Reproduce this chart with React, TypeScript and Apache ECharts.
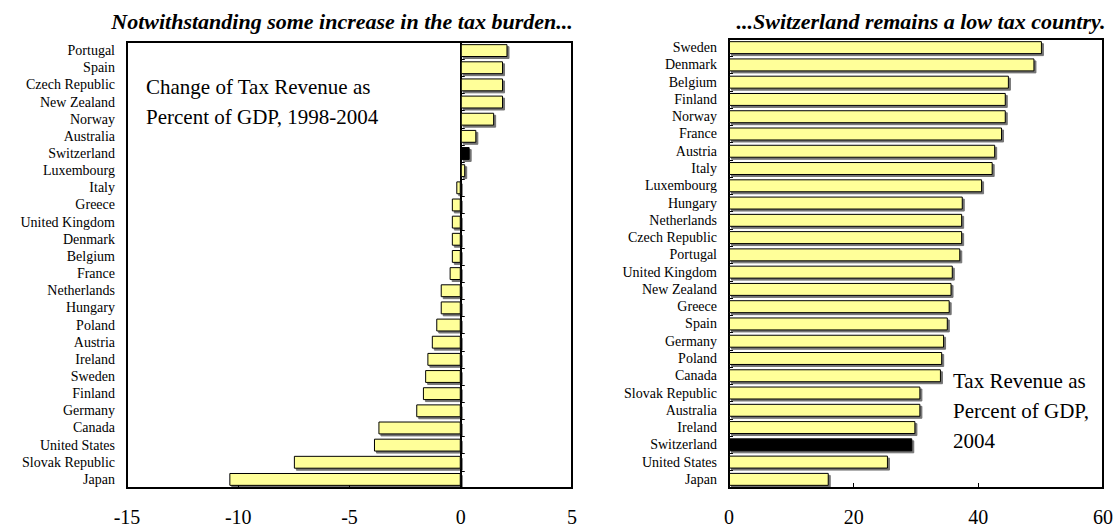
import React, { useEffect, useRef } from "react";
import * as echarts from "echarts";

const leftCategories = ["Portugal", "Spain", "Czech Republic", "New Zealand", "Norway", "Australia", "Switzerland", "Luxembourg", "Italy", "Greece", "United Kingdom", "Denmark", "Belgium", "France", "Netherlands", "Hungary", "Poland", "Austria", "Ireland", "Sweden", "Finland", "Germany", "Canada", "United States", "Slovak Republic", "Japan"];
const leftValues = [2.1, 1.9, 1.9, 1.9, 1.5, 0.7, 0.4, 0.2, -0.2, -0.4, -0.4, -0.4, -0.4, -0.5, -0.9, -0.9, -1.1, -1.3, -1.5, -1.6, -1.7, -2.0, -3.7, -3.9, -7.5, -10.4];

const rightCategories = ["Sweden", "Denmark", "Belgium", "Finland", "Norway", "France", "Austria", "Italy", "Luxembourg", "Hungary", "Netherlands", "Czech Republic", "Portugal", "United Kingdom", "New Zealand", "Greece", "Spain", "Germany", "Poland", "Canada", "Slovak Republic", "Australia", "Ireland", "Switzerland", "United States", "Japan"];
const rightValues = [50.2, 49.0, 44.9, 44.4, 44.4, 43.8, 42.7, 42.3, 40.6, 37.5, 37.4, 37.4, 37.1, 35.9, 35.7, 35.4, 35.1, 34.5, 34.2, 34.0, 30.7, 30.7, 29.9, 29.4, 25.5, 16.0];

const leftTicks = [-15, -10, -5, 0, 5];
const rightTicks = [0, 20, 40, 60];

const highlight = "Switzerland";

const leftTitle = "Notwithstanding some increase in the tax burden...";
const rightTitle = "...Switzerland remains a low tax country.";
const leftNote = "Change of Tax Revenue as\nPercent of GDP, 1998-2004";
const rightNote = "Tax Revenue as\nPercent of GDP,\n2004";

const SERIF = "'Liberation Serif', 'Times New Roman', serif";

function barData(cats: string[], vals: number[]) {
  return vals.map((v, i) => ({
    value: v,
    itemStyle: cats[i] === highlight ? { color: "#000000" } : undefined,
  }));
}

const barItemStyle = {
  color: "#FFFF99",
  borderColor: "#000",
  borderWidth: 1,
  shadowColor: "rgba(0,0,0,0.55)",
  shadowOffsetX: 2,
  shadowOffsetY: 2,
  shadowBlur: 1,
};

export default function App() {
  const ref = useRef<HTMLDivElement>(null);
  useEffect(() => {
    if (!ref.current) return;
    const chart = echarts.init(ref.current, undefined, { renderer: "svg" });
    const catLabel = { fontFamily: SERIF, fontSize: 14, color: "#000", margin: 12, interval: 0 };
    const valLabel = { fontFamily: SERIF, fontSize: 20, color: "#000", margin: 19 };
    const titleStyle = { fontFamily: SERIF, fontSize: 22, fontWeight: "bold", fontStyle: "italic", color: "#000" };
    chart.setOption({
      animation: false,
      backgroundColor: "#fff",
      title: [
        { text: leftTitle, left: 337, textAlign: "center", top: 5, textStyle: titleStyle },
        { text: rightTitle, left: 916, textAlign: "center", top: 5, textStyle: titleStyle },
      ],
      grid: [
        { left: 127, top: 42, width: 445, height: 448, show: true, borderColor: "#000", borderWidth: 2, backgroundColor: "transparent" },
        { left: 729, top: 39, width: 376, height: 451, show: true, borderColor: "#000", borderWidth: 2, backgroundColor: "transparent" },
      ],
      xAxis: [
        {
          type: "value",
          gridIndex: 0,
          min: leftTicks[0],
          max: leftTicks[leftTicks.length - 1],
          interval: 5,
          splitLine: { show: false },
          axisLine: { show: true, lineStyle: { color: "#000", width: 2 } },
          axisTick: { show: true, inside: true, length: 4, lineStyle: { color: "#000" } },
          axisLabel: valLabel,
        },
        {
          type: "value",
          gridIndex: 1,
          min: rightTicks[0],
          max: rightTicks[rightTicks.length - 1],
          interval: 20,
          splitLine: { show: false },
          axisLine: { show: true, lineStyle: { color: "#000", width: 2 } },
          axisTick: { show: true, inside: true, length: 5, lineStyle: { color: "#000" } },
          axisLabel: valLabel,
        },
      ],
      yAxis: [
        {
          type: "category",
          gridIndex: 0,
          data: leftCategories,
          inverse: true,
          position: "left",
          axisLine: { show: false, onZero: false },
          axisTick: { show: false },
          axisLabel: catLabel,
        },
        {
          type: "category",
          gridIndex: 0,
          data: leftCategories,
          inverse: true,
          position: "left",
          axisLine: { show: true, onZero: true, lineStyle: { color: "#000", width: 2 } },
          axisTick: { show: true, inside: true, length: 4, interval: 0, lineStyle: { color: "#000" } },
          axisLabel: { show: false },
        },
        {
          type: "category",
          gridIndex: 1,
          data: rightCategories,
          inverse: true,
          position: "left",
          axisLine: { show: true, onZero: false, lineStyle: { color: "#000", width: 2 } },
          axisTick: { show: true, inside: true, length: 4, interval: 0, lineStyle: { color: "#000" } },
          axisLabel: catLabel,
        },
      ],
      series: [
        {
          type: "bar",
          xAxisIndex: 0,
          yAxisIndex: 0,
          data: barData(leftCategories, leftValues),
          barCategoryGap: "25%",
          itemStyle: barItemStyle,
        },
        {
          type: "bar",
          xAxisIndex: 1,
          yAxisIndex: 2,
          data: barData(rightCategories, rightValues),
          barCategoryGap: "25%",
          itemStyle: barItemStyle,
        },
      ],
      graphic: [
        {
          type: "text",
          left: 146,
          top: 72,
          style: { text: leftNote, font: `21px ${SERIF}`, fill: "#000", lineHeight: 30 },
        },
        {
          type: "text",
          left: 953,
          top: 366,
          style: { text: rightNote, font: `21px ${SERIF}`, fill: "#000", lineHeight: 30 },
        },
      ],
    });
    return () => chart.dispose();
  }, []);
  return <div ref={ref} style={{ position: "fixed", left: 0, top: 0, width: 1116, height: 527 }} />;
}
